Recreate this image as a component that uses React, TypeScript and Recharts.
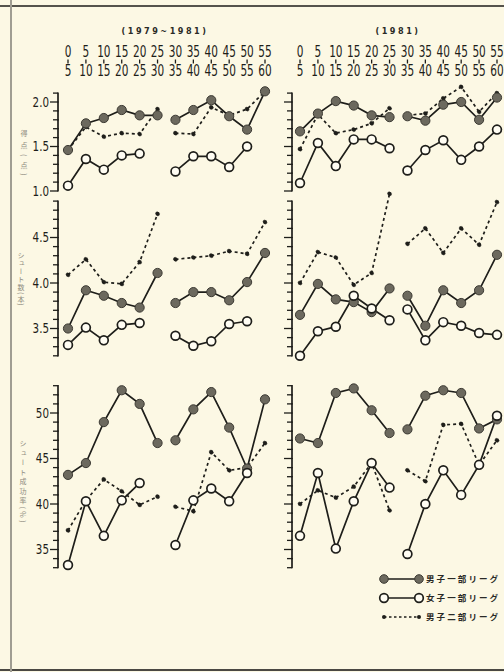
import React from "react";
import { LineChart, Line, XAxis, YAxis } from "recharts";

const periodStart = [0, 5, 10, 15, 20, 25, 30, 35, 40, 45, 50, 55];
const periodEnd = [5, 10, 15, 20, 25, 30, 35, 40, 45, 50, 55, 60];
const periods = periodStart.map((s, i) => `${s}-${periodEnd[i]}`);

// 得点 (点)
const ptsMen1Left = [1.46, 1.76, 1.82, 1.91, 1.85, 1.85, 1.8, 1.91, 2.02, 1.84, 1.69, 2.12];
const ptsWomen1Left = [1.06, 1.36, 1.24, 1.4, 1.42, null, 1.22, 1.39, 1.39, 1.27, 1.5, null];
const ptsMen2Left = [1.46, 1.72, 1.61, 1.65, 1.64, 1.92, 1.65, 1.64, 1.94, 1.85, 1.92, 2.12];
const ptsMen1Right = [1.67, 1.87, 2.01, 1.96, 1.85, 1.83, 1.84, 1.79, 1.97, 2.0, 1.8, 2.05];
const ptsWomen1Right = [1.09, 1.54, 1.28, 1.58, 1.58, 1.48, 1.23, 1.46, 1.57, 1.35, 1.5, 1.69];
const ptsMen2Right = [1.47, 1.86, 1.65, 1.69, 1.76, 1.93, 1.85, 1.87, 2.04, 2.17, 1.89, 2.1];

// シュート数 (本)
const shotMen1Left = [3.5, 3.92, 3.86, 3.78, 3.73, 4.11, 3.78, 3.9, 3.9, 3.81, 4.01, 4.33];
const shotWomen1Left = [3.32, 3.51, 3.37, 3.54, 3.56, null, 3.42, 3.31, 3.36, 3.55, 3.58, null];
const shotMen2Left = [4.09, 4.26, 4.01, 3.99, 4.23, 4.76, 4.26, 4.28, 4.3, 4.35, 4.32, 4.67];
const shotMen1Right = [3.65, 3.99, 3.82, 3.79, 3.68, 3.94, 3.86, 3.53, 3.92, 3.78, 3.92, 4.31];
const shotWomen1Right = [3.2, 3.47, 3.52, 3.86, 3.72, 3.59, 3.71, 3.37, 3.57, 3.53, 3.45, 3.43];
const shotMen2Right = [4.0, 4.34, 4.28, 3.98, 4.11, 4.98, 4.43, 4.6, 4.33, 4.6, 4.42, 4.89];

// シュート成功率 (%)
const rateMen1Left = [43.2, 44.5, 49.0, 52.5, 51.0, 46.7, 47.0, 50.4, 52.3, 48.4, 43.9, 51.5];
const rateWomen1Left = [33.3, 40.3, 36.5, 40.4, 42.3, null, 35.5, 40.4, 41.7, 40.3, 43.4, null];
const rateMen2Left = [37.1, 40.4, 42.7, 41.4, 39.9, 40.8, 39.7, 39.2, 45.7, 43.7, 44.0, 46.7];
const rateMen1Right = [47.2, 46.7, 52.2, 52.7, 50.3, 47.8, 48.2, 51.9, 52.5, 52.2, 48.3, 49.3];
const rateWomen1Right = [36.5, 43.4, 35.1, 40.3, 44.5, 41.8, 34.5, 40.0, 43.7, 41.0, 44.3, 49.7];
const rateMen2Right = [40.0, 41.5, 40.7, 41.9, 44.5, 39.3, 43.7, 42.5, 48.7, 48.8, 44.3, 47.0];

const ptsTicks = [1.0, 1.1, 1.2, 1.3, 1.4, 1.5, 1.6, 1.7, 1.8, 1.9, 2.0, 2.1];
const ptsMajors = [1.0, 1.5, 2.0];
const shotTicks = [3.2, 3.3, 3.4, 3.5, 3.6, 3.7, 3.8, 3.9, 4.0, 4.1, 4.2, 4.3, 4.4, 4.5, 4.6, 4.7, 4.8, 4.9];
const shotMajors = [3.5, 4.0, 4.5];
const rateTicks = [33, 34, 35, 36, 37, 38, 39, 40, 41, 42, 43, 44, 45, 46, 47, 48, 49, 50, 51, 52, 53];
const rateMajors = [35, 40, 45, 50];

const legendLabels = ["男子一部リーグ", "女子一部リーグ", "男子二部リーグ"];

const PAPER = "#fcf8e4";
const INK = "#1e1e1a";
const GREY_DOT = "#6c695e";
const NUM_FONT = "'Liberation Sans Narrow', 'DejaVu Sans Condensed', 'Liberation Sans', sans-serif";
const JP_FONT = "'Noto Sans CJK JP', sans-serif";

function buildRows(men1: (number | null)[], women1: (number | null)[], men2: (number | null)[]) {
  return periods.map((p, i) => {
    const first = i < 6;
    return {
      period: p,
      m1a: first ? men1[i] : null,
      m1b: first ? null : men1[i],
      w1a: first ? women1[i] : null,
      w1b: first ? null : women1[i],
      m2a: first ? men2[i] : null,
      m2b: first ? null : men2[i],
    };
  });
}

// two-line period label: start / bar / end, squeezed to look condensed
function HeaderTick(props: any) {
  const { x, payload } = props;
  const [a, b] = String(payload.value).split("-");
  return (
    <g>
      <text transform={`translate(${x},57) scale(0.78,1)`} textAnchor="middle" fontSize={15} fontFamily={NUM_FONT} fill={INK}>
        {a}
      </text>
      <line x1={x} x2={x} y1={59.5} y2={63.5} stroke={INK} strokeWidth={1.3} />
      <text transform={`translate(${x},76) scale(0.78,1)`} textAnchor="middle" fontSize={15} fontFamily={NUM_FONT} fill={INK}>
        {b}
      </text>
    </g>
  );
}

type Panel = {
  top: number;
  height: number;
  refY: number;
  refV: number;
  ppu: number;
  step: number;
  ticks: number[];
  majors: number[];
  digits: number;
  header: boolean;
};

const ptsPanel: Panel = { top: 0, height: 200, refY: 102, refV: 2.0, ppu: 89, step: 0.1, ticks: ptsTicks, majors: ptsMajors, digits: 1, header: true };
const shotPanel: Panel = { top: 185, height: 185, refY: 283, refV: 4.0, ppu: 91, step: 0.1, ticks: shotTicks, majors: shotMajors, digits: 1, header: false };
const ratePanel: Panel = { top: 370, height: 210, refY: 413, refV: 50, ppu: 9.1, step: 1, ticks: rateTicks, majors: rateMajors, digits: 0, header: false };

function makeYTick(axisX: number, panel: Panel, labels: boolean) {
  const gap = panel.step * panel.ppu;
  const maxTick = panel.ticks[panel.ticks.length - 1];
  return (p: any) => {
    const v = Number(p.payload.value);
    const y = p.y;
    const major = panel.majors.some((m) => Math.abs(m - v) < 1e-6);
    const len = major ? 8 : 5;
    return (
      <g>
        <line x1={axisX - len} x2={axisX} y1={y} y2={y} stroke={INK} strokeWidth={1.3} />
        {v < maxTick - 1e-6 && (
          <line x1={axisX} x2={axisX} y1={y + 0.6} y2={y - gap - 0.6} stroke={INK} strokeWidth={1.7} />
        )}
        {labels && major && (
          <text
            transform={`translate(${axisX - 9},${y + 4.5}) scale(0.82,1)`}
            textAnchor="end"
            fontSize={14}
            fontFamily={NUM_FONT}
            fill={INK}
          >
            {v.toFixed(panel.digits)}
          </text>
        )}
      </g>
    );
  };
}

function PanelChart({
  panel,
  side,
  men1,
  women1,
  men2,
}: {
  panel: Panel;
  side: "left" | "right";
  men1: (number | null)[];
  women1: (number | null)[];
  men2: (number | null)[];
}) {
  const left = side === "left" ? 0 : 250;
  const width = side === "left" ? 275 : 255;
  const yWidth = side === "left" ? 58 : 42;
  const pad = side === "left" ? 10 : 8;
  const headH = panel.header ? 80 : 0;
  const plotTop = panel.top + headH;
  const plotBottom = panel.top + panel.height;
  const domain: [number, number] = [
    panel.refV - (plotBottom - panel.refY) / panel.ppu,
    panel.refV + (panel.refY - plotTop) / panel.ppu,
  ];
  const rows = buildRows(men1, women1, men2);

  const dark = { r: 4.6, fill: GREY_DOT, stroke: "#3c3a33", strokeWidth: 1 };
  const open = { r: 4.4, fill: "#fffdf3", stroke: INK, strokeWidth: 1.7 };
  const small = { r: 2.1, fill: INK, stroke: INK, strokeWidth: 0.5 };

  return (
    <div style={{ position: "absolute", left, top: panel.top }}>
      <LineChart width={width} height={panel.height} data={rows} margin={{ top: 0, right: 0, bottom: 0, left: 0 }}>
        {panel.header ? (
          <XAxis
            dataKey="period"
            orientation="top"
            height={80}
            axisLine={false}
            tickLine={false}
            interval={0}
            padding={{ left: pad, right: pad }}
            tick={HeaderTick}
          />
        ) : (
          <XAxis dataKey="period" hide padding={{ left: pad, right: pad }} />
        )}
        <YAxis
          type="number"
          width={yWidth}
          domain={domain}
          ticks={panel.ticks}
          interval={0}
          axisLine={false}
          tickLine={false}
          tickSize={0}
          tickMargin={0}
          tick={makeYTick(yWidth, panel, side === "left")}
        />
        {(["m2a", "m2b"] as const).map((k) => (
          <Line key={k} dataKey={k} stroke={INK} strokeWidth={1.7} strokeDasharray="3 3" dot={small} isAnimationActive={false} />
        ))}
        {(["m1a", "m1b"] as const).map((k) => (
          <Line key={k} dataKey={k} stroke={INK} strokeWidth={1.7} dot={dark} isAnimationActive={false} />
        ))}
        {(["w1a", "w1b"] as const).map((k) => (
          <Line key={k} dataKey={k} stroke={INK} strokeWidth={1.7} dot={open} isAnimationActive={false} />
        ))}
      </LineChart>
    </div>
  );
}

function Legend() {
  const rowsY = [579, 598, 617];
  return (
    <svg style={{ position: "absolute", left: 0, top: 0 }} width={504} height={672}>
      {rowsY.map((y, i) => (
        <g key={i}>
          <line
            x1={384}
            x2={419}
            y1={y}
            y2={y}
            stroke={INK}
            strokeWidth={1.6}
            strokeDasharray={i === 2 ? "2.5 2.5" : undefined}
          />
          {[384, 419].map((cx) =>
            i === 0 ? (
              <circle key={cx} cx={cx} cy={y} r={4.3} fill={GREY_DOT} stroke="#3c3a33" strokeWidth={1} />
            ) : i === 1 ? (
              <circle key={cx} cx={cx} cy={y} r={4.3} fill="#fffdf3" stroke={INK} strokeWidth={1.7} />
            ) : (
              <circle key={cx} cx={cx} cy={y} r={2} fill={INK} />
            )
          )}
          <text x={426} y={y + 3.2} fontSize={8.5} fontFamily={JP_FONT} fontWeight={700} fill="#2a2a26" letterSpacing={2.1}>
            {legendLabels[i]}
          </text>
        </g>
      ))}
    </svg>
  );
}

const vLabel: React.CSSProperties = {
  position: "absolute",
  writingMode: "vertical-rl",
  fontFamily: JP_FONT,
  fontSize: 7,
  color: "#8f8c80",
  letterSpacing: 1,
  lineHeight: 1,
};

export default function App() {
  return (
    <div style={{ position: "fixed", left: 0, top: 0, width: 504, height: 672, background: PAPER, overflow: "hidden" }}>
      <div style={{ position: "absolute", left: 0, right: 0, top: 5, height: 1.5, background: "#55534c" }} />
      <div style={{ position: "absolute", left: 0, right: 0, top: 669, height: 2, background: "#4a4842" }} />
      <div style={{ position: "absolute", left: 10, top: 0, width: 1.5, height: 672, background: "#a09d92" }} />

      <div style={{ position: "absolute", left: 115, top: 26, width: 100, textAlign: "center", fontFamily: NUM_FONT, fontSize: 9, fontWeight: 700, letterSpacing: 2.5, color: "#2a2a26" }}>
        (1979~1981)
      </div>
      <div style={{ position: "absolute", left: 358, top: 26, width: 80, textAlign: "center", fontFamily: NUM_FONT, fontSize: 9, fontWeight: 700, letterSpacing: 2.5, color: "#2a2a26" }}>
        (1981)
      </div>

      <div style={{ ...vLabel, left: 20, top: 130, letterSpacing: 5 }}>得点(点)</div>
      <div style={{ ...vLabel, left: 17, top: 252 }}>シュート数(本)</div>
      <div style={{ ...vLabel, left: 19, top: 440, letterSpacing: 2.5 }}>シュート成功率(%)</div>

      <PanelChart panel={ptsPanel} side="left" men1={ptsMen1Left} women1={ptsWomen1Left} men2={ptsMen2Left} />
      <PanelChart panel={ptsPanel} side="right" men1={ptsMen1Right} women1={ptsWomen1Right} men2={ptsMen2Right} />
      <PanelChart panel={shotPanel} side="left" men1={shotMen1Left} women1={shotWomen1Left} men2={shotMen2Left} />
      <PanelChart panel={shotPanel} side="right" men1={shotMen1Right} women1={shotWomen1Right} men2={shotMen2Right} />
      <PanelChart panel={ratePanel} side="left" men1={rateMen1Left} women1={rateWomen1Left} men2={rateMen2Left} />
      <PanelChart panel={ratePanel} side="right" men1={rateMen1Right} women1={rateWomen1Right} men2={rateMen2Right} />

      <Legend />
    </div>
  );
}
